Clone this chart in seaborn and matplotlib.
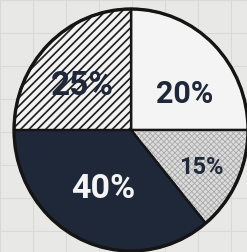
import matplotlib
matplotlib.use("Agg")
import matplotlib.pyplot as plt
from matplotlib.patches import Wedge
import seaborn as sns
import numpy as np

# wedge shares as drawn (clockwise from 12 o'clock) and the printed labels
segments = ["A", "B", "C", "D"]
shares = [25, 14, 36, 25]
labels = ["20%", "15%", "40%", "25%"]

fills = ["#f4f4f4", "#dcdcdc", "#1e2838", "#f2f2f2"]
hatches = [None, "xxxxxx", None, "////"]
hatch_cols = [None, "#a9a9a9", None, "#1c1c1c"]
hatch_lws = [None, 0.6, None, 1.2]
label_colors = ["#1e2838", "#1e2838", "#f4f4f4", "#1e2838"]
label_sizes = [22, 17, 24.5, 24]
label_dist = [0.55, 0.675, 0.545, 0.553]
label_rot = [-12, -2, -1, 4]  # angular nudge from the wedge middle

sns.set_theme(style="white")
plt.rcParams["font.family"] = ["Roboto", "DejaVu Sans"]

fig = plt.figure(figsize=(2.47, 2.52), dpi=100)
fig.patch.set_facecolor("#e8e8e6")

# faint grid-paper background
bg = fig.add_axes([0, 0, 1, 1])
bg.set_facecolor("#e8e8e6")
bg.set_xlim(0, 247)
bg.set_ylim(252, 0)
bg.set_xticks(range(0, 248, 33))
bg.set_yticks(range(0, 253, 33))
bg.grid(True, color="#d9d9d7", linewidth=0.8)
bg.tick_params(length=0, labelbottom=False, labelleft=False)
for s in bg.spines.values():
    s.set_visible(False)

ax = fig.add_axes([11.7 / 247, -1.4 / 252, 238.7 / 247, 246.8 / 252])
wedges, texts = ax.pie(
    shares,
    labels=labels,
    startangle=90,
    counterclock=False,
    colors=fills,
    labeldistance=0.55,
    wedgeprops=dict(edgecolor="#151515", linewidth=1.6),
)

# hatch overlays with their own colour / line width
for w, h, hc, hlw in zip(wedges, hatches, hatch_cols, hatch_lws):
    if h:
        with plt.rc_context({"hatch.linewidth": hlw}):
            ov = Wedge(w.center, w.r, w.theta1, w.theta2, facecolor="none",
                       edgecolor=hc, linewidth=0, hatch=h, zorder=w.get_zorder() + 0.1)
        ax.add_patch(ov)
        edge = Wedge(w.center, w.r, w.theta1, w.theta2, facecolor="none",
                     edgecolor="#151515", linewidth=1.6, zorder=w.get_zorder() + 0.2)
        ax.add_patch(edge)

for w, t, c, fs, d, rot in zip(wedges, texts, label_colors, label_sizes, label_dist, label_rot):
    ang = np.deg2rad((w.theta1 + w.theta2) / 2 + rot)
    t.set_position((d * np.cos(ang), d * np.sin(ang)))
    t.set_ha("center")
    t.set_va("center")
    t.set_color(c)
    t.set_fontsize(fs)
    t.set_fontweight("bold")
    t.set_zorder(5)

# thick outer rim
rim = plt.Circle((0, 0), 1, fill=False, edgecolor="#151515", linewidth=2.4, zorder=4)
ax.add_patch(rim)
ax.set_xlim(-1.02, 1.02)
ax.set_ylim(-1.02, 1.02)
ax.set_aspect("auto")
ax.axis("off")

fig.savefig("out.png", dpi=100, facecolor=fig.get_facecolor())
